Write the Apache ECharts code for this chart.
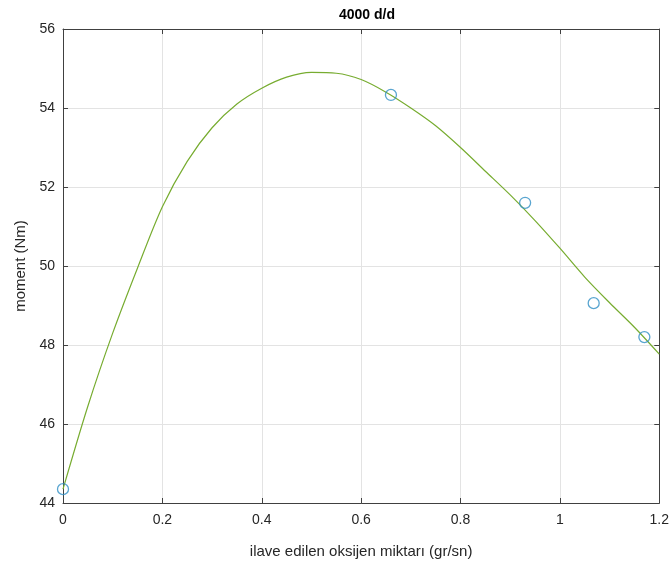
<!DOCTYPE html>
<html>
<head>
<meta charset="utf-8">
<script src="https://cdn.jsdelivr.net/npm/echarts@6/dist/echarts.min.js"></script>
<style>
  html, body { margin: 0; padding: 0; background: #fff; }
  #main { width: 672px; height: 572px; }
</style>
</head>
<body>
<div id="main"></div>
<script>
// measured points (x: gr/sn, y: Nm)
const pointX = [0, 0.66, 0.93, 1.068, 1.17];
const pointY = [44.35, 54.33, 51.6, 49.06, 48.2];

// fitted curve, every 0.05
const curveX = [0, 0.05, 0.1, 0.15, 0.2, 0.25, 0.3, 0.35, 0.4, 0.45, 0.5, 0.55, 0.6,
  0.65, 0.7, 0.75, 0.8, 0.85, 0.9, 0.95, 1.0, 1.05, 1.1, 1.15, 1.2];
const curveY = [44.35, 46.45, 48.3, 49.95, 51.5, 52.65, 53.5, 54.1, 54.5, 54.78, 54.9, 54.88, 54.72,
  54.4, 54.0, 53.55, 53.0, 52.4, 51.8, 51.15, 50.45, 49.72, 49.07, 48.45, 47.77];

const font = "'Liberation Sans', Arial, sans-serif";
const textColor = "#262626";
const lineColor = "#404040";

const chart = echarts.init(document.getElementById("main"));

const hiddenAxis = (pos, min, max, interval) => ({
  type: "value",
  position: pos,
  min, max, interval,
  axisLine: { show: true, onZero: false, lineStyle: { color: lineColor, width: 1 } },
  axisTick: { show: true, inside: true, length: 5, lineStyle: { color: lineColor } },
  axisLabel: { show: false },
  splitLine: { show: false },
});

chart.setOption({
  animation: false,
  title: {
    text: "4000 d/d",
    left: 362,
    textAlign: "center",
    top: 3,
    textStyle: { fontFamily: font, fontSize: 14, fontWeight: "bold", color: "#000" },
  },
  grid: { left: 63, right: 10, top: 29, bottom: 69 },
  xAxis: [
    {
      type: "value",
      min: 0, max: 1.2, interval: 0.2,
      name: "ilave edilen oksijen miktarı (gr/sn)",
      nameLocation: "middle",
      nameGap: 41,
      nameTextStyle: { fontFamily: font, fontSize: 15, color: textColor },
      axisLine: { show: true, onZero: false, lineStyle: { color: lineColor, width: 1 } },
      axisTick: { show: true, inside: true, length: 5, lineStyle: { color: lineColor } },
      axisLabel: { fontFamily: font, fontSize: 14, color: textColor, margin: 10 },
      splitLine: { show: true, lineStyle: { color: "#e3e3e3", width: 1 } },
    },
    hiddenAxis("top", 0, 1.2, 0.2),
  ],
  yAxis: [
    {
      type: "value",
      min: 44, max: 56, interval: 2,
      name: "moment (Nm)",
      nameLocation: "middle",
      nameGap: 33,
      nameTextStyle: { fontFamily: font, fontSize: 15, color: textColor },
      axisLine: { show: true, onZero: false, lineStyle: { color: lineColor, width: 1 } },
      axisTick: { show: true, inside: true, length: 5, lineStyle: { color: lineColor } },
      axisLabel: { fontFamily: font, fontSize: 14, color: textColor, margin: 8 },
      splitLine: { show: true, lineStyle: { color: "#e3e3e3", width: 1 } },
    },
    hiddenAxis("right", 44, 56, 2),
  ],
  series: [
    {
      type: "line",
      data: curveX.map((x, i) => [x, curveY[i]]),
      smooth: 0.3,
      showSymbol: false,
      lineStyle: { color: "#77AC30", width: 1.2 },
      z: 2,
    },
    {
      type: "scatter",
      data: pointX.map((x, i) => [x, pointY[i]]),
      symbol: "circle",
      symbolSize: 11,
      itemStyle: { color: "rgba(255,255,255,0)", borderColor: "#2f8fc4", borderWidth: 1.3 },
      z: 3,
    },
  ],
});
</script>
</body>
</html>
